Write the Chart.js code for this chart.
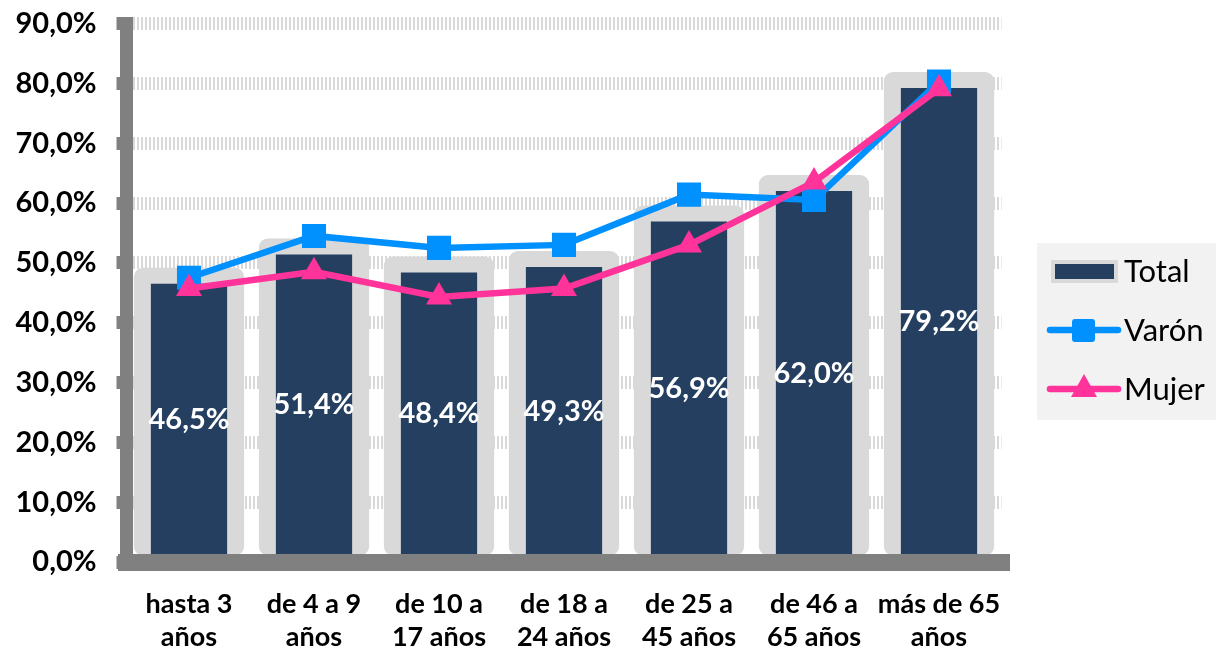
<!DOCTYPE html>
<html>
<head>
<meta charset="utf-8">
<script src="https://cdn.jsdelivr.net/npm/chart.js@4.4.1/dist/chart.umd.min.js"></script>
<style>
  body { margin: 0; background: #fff; }
</style>
</head>
<body>
<canvas id="chart" width="1216" height="650"></canvas>
<script>
const categories = [
  ['hasta 3', 'años'],
  ['de 4 a 9', 'años'],
  ['de 10 a', '17 años'],
  ['de 18 a', '24 años'],
  ['de 25 a', '45 años'],
  ['de 46 a', '65 años'],
  ['más de 65', 'años']
];
const total = [46.5, 51.4, 48.4, 49.3, 56.9, 62.0, 79.2];
const varon = [47.5, 54.5, 52.5, 53.0, 61.4, 60.5, 80.3];
const mujer = [45.7, 48.5, 44.3, 45.7, 53.0, 63.5, 79.1];
const seriesNames = ['Total', 'Varón', 'Mujer'];

const FONT = 'Lato, "Open Sans", sans-serif';
const pct = v => v.toFixed(1).replace('.', ',') + '%';

// light gray halo behind each bar
const barGlow = {
  id: 'barGlow',
  beforeDatasetsDraw(chart) {
    const ctx = chart.ctx;
    const meta = chart.getDatasetMeta(0);
    ctx.save();
    ctx.fillStyle = '#d9d9d9';
    meta.data.forEach(bar => {
      const half = bar.width / 2 + 17;
      ctx.beginPath();
      ctx.roundRect(bar.x - half, bar.y - 16, half * 2, bar.base - bar.y + 16, 9);
      ctx.fill();
    });
    ctx.restore();
  }
};

// white value labels in the middle of the bars
const barLabels = {
  id: 'barLabels',
  afterDatasetDraw(chart, args) {
    if (args.index !== 0) return;
    const ctx = chart.ctx;
    ctx.save();
    ctx.fillStyle = '#ffffff';
    ctx.font = 'bold 29px ' + FONT;
    ctx.textAlign = 'center';
    ctx.textBaseline = 'middle';
    args.meta.data.forEach((bar, i) => {
      ctx.fillText(pct(total[i]), bar.x, (bar.y + bar.base) / 2);
    });
    ctx.restore();
  }
};

// legend box on the right
const sideLegend = {
  id: 'sideLegend',
  afterDraw(chart) {
    const ctx = chart.ctx;
    ctx.save();
    ctx.fillStyle = '#f2f2f2';
    ctx.fillRect(1037, 243, 179, 177);
    ctx.font = '31px ' + FONT;
    ctx.textBaseline = 'middle';
    const rows = [271, 330, 389];

    // Total
    ctx.fillStyle = '#d9d9d9';
    ctx.fillRect(1051, 260, 67, 23);
    ctx.fillStyle = '#243f60';
    ctx.fillRect(1055, 264, 59, 15);

    // Varón
    ctx.strokeStyle = '#0091ff';
    ctx.lineWidth = 6.5;
    ctx.lineCap = 'round';
    ctx.beginPath();
    ctx.moveTo(1050, rows[1]);
    ctx.lineTo(1118, rows[1]);
    ctx.stroke();
    ctx.fillStyle = '#0091ff';
    ctx.beginPath();
    ctx.roundRect(1072, rows[1] - 11, 23, 23, 3);
    ctx.fill();

    // Mujer
    ctx.strokeStyle = '#ff3399';
    ctx.beginPath();
    ctx.moveTo(1050, rows[2]);
    ctx.lineTo(1118, rows[2]);
    ctx.stroke();
    ctx.fillStyle = '#ff3399';
    ctx.beginPath();
    ctx.moveTo(1084, rows[2] - 15);
    ctx.lineTo(1097, rows[2] + 8);
    ctx.lineTo(1071, rows[2] + 8);
    ctx.closePath();
    ctx.fill();

    ctx.fillStyle = '#000';
    seriesNames.forEach((name, i) => ctx.fillText(name, 1124, rows[i] + 1));
    ctx.restore();
  }
};

new Chart(document.getElementById('chart').getContext('2d'), {
  type: 'bar',
  data: {
    labels: categories,
    datasets: [
      {
        label: seriesNames[0],
        data: total,
        backgroundColor: '#243f60',
        barPercentage: 0.61,
        categoryPercentage: 1,
        order: 3
      },
      {
        type: 'line',
        label: seriesNames[1],
        data: varon,
        borderColor: '#0091ff',
        backgroundColor: '#0091ff',
        borderWidth: 6.5,
        pointStyle: 'rect',
        pointRadius: 17,
        pointBorderWidth: 0,
        order: 2
      },
      {
        type: 'line',
        label: seriesNames[2],
        data: mujer,
        borderColor: '#ff3399',
        backgroundColor: '#ff3399',
        borderWidth: 6.5,
        pointStyle: 'triangle',
        pointRadius: 15,
        pointBorderWidth: 0,
        order: 1
      }
    ]
  },
  options: {
    responsive: false,
    devicePixelRatio: 1,
    animation: false,
    layout: { padding: { top: 23.5, right: 214.5, left: 0, bottom: 0 } },
    plugins: {
      legend: { display: false },
      tooltip: { enabled: false }
    },
    scales: {
      x: {
        afterFit: s => { s.height = 88; },
        grid: {
          drawOnChartArea: false,
          offset: true,
          color: '#808080',
          lineWidth: 16,
          tickLength: 5
        },
        border: { color: '#808080', width: 17, z: 1 },
        ticks: {
          color: '#000',
          padding: 21,
          maxRotation: 0,
          autoSkip: false,
          font: { family: FONT, size: 27, weight: 'bold', lineHeight: 1.22 }
        }
      },
      y: {
        min: 0,
        max: 90,
        afterFit: s => { s.width = 126.5; },
        grid: {
          color: '#d9d9d9',
          lineWidth: 13,
          tickLength: 10,
          tickWidth: 13,
          tickColor: '#808080',
          tickBorderDash: []
        },
        border: { color: '#808080', width: 13, dash: [2, 2], z: 1 },
        ticks: {
          stepSize: 10,
          color: '#000',
          padding: 20,
          font: { family: FONT, size: 29, weight: 'bold', lineHeight: 0.2 },
          callback: v => pct(v)
        }
      }
    }
  },
  plugins: [barGlow, barLabels, sideLegend]
});
</script>
</body>
</html>
